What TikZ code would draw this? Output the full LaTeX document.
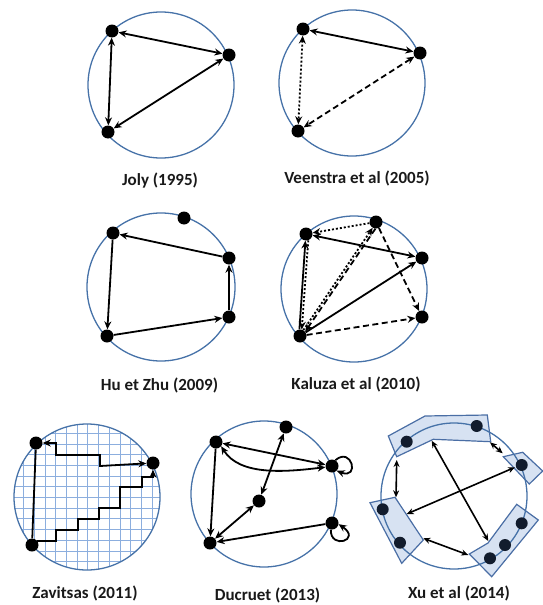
\documentclass[tikz,border=0pt]{standalone}
\usepackage{fontspec}
\setmainfont{Carlito}
\usetikzlibrary{arrows.meta}
\definecolor{circ}{RGB}{70,114,168}
\definecolor{gridc}{RGB}{140,174,222}
\definecolor{bandfill}{RGB}{215,226,242}
\definecolor{bandline}{RGB}{74,110,165}
\definecolor{xnode}{RGB}{18,28,45}
\begin{document}
\begin{tikzpicture}[x=1pt,y=-1pt,
 ring/.style={draw=circ,line width=1.3pt},
 dot/.style={circle,fill=black,inner sep=0pt,minimum size=13pt},
 xdot/.style={circle,fill=xnode,inner sep=0pt,minimum size=12pt},
 arr/.style={line width=1.8pt,-{Stealth[length=8pt,width=7pt]}},
 darr/.style={line width=1.8pt,{Stealth[length=8pt,width=7pt]}-{Stealth[length=8pt,width=7pt]}},
 xarr/.style={line width=1.6pt,{Stealth[length=7pt,width=6pt]}-{Stealth[length=7pt,width=6pt]}},
 plain/.style={line width=1.8pt},
 dots/.style={dash pattern=on 2pt off 2pt},
 dashb/.style={dash pattern=on 6pt off 3.5pt},
 lbl/.style={font=\fontsize{17}{20}\selectfont\bfseries, text=black!90},
 band/.style={fill=bandfill,draw=bandline,line width=1.2pt},
]
\useasboundingbox (0,0) rectangle (543,605);

% ---------- Joly (1995)
\draw[ring] (161,85) circle[radius=73];
\node[dot] (j1) at (112,31) {};
\node[dot] (j2) at (229,55) {};
\node[dot] (j3) at (108,132) {};
\draw[darr] (j1) -- (j2);
\draw[darr] (j2) -- (j3);
\draw[darr] (j1) -- (j3);
\node[lbl] (jl) at (160,181) {Joly (1995)};

% ---------- Veenstra et al (2005)
\draw[ring] (352,83) circle[radius=73];
\node[dot] (v1) at (303,29) {};
\node[dot] (v2) at (420,53) {};
\node[dot] (v3) at (298,131) {};
\draw[darr] (v1) -- (v2);
\draw[darr,dots] (v1) -- (v3);
\draw[darr,dashb] (v2) -- (v3);
\node[lbl] (vl) at (357,178) {Veenstra et al (2005)};

% ---------- Hu et Zhu (2009)
\draw[ring] (161,287) circle[radius=74];
\node[dot] (h0) at (184,218) {};
\node[dot] (h1) at (113,233) {};
\node[dot] (h2) at (229,258) {};
\node[dot] (h3) at (229,317) {};
\node[dot] (h4) at (107,336) {};
\draw[arr] (h2) -- (h1);
\draw[arr] (h1) -- (h4);
\draw[arr] (h4) -- (h3);
\draw[arr] (h3) -- (h2);
\node[lbl] (hl) at (159.5,385) {Hu et Zhu (2009)};

% ---------- Kaluza et al (2010)
\draw[ring] (354,289) circle[radius=73];
\node[dot] (k0) at (376,222) {};
\node[dot] (k1) at (306,234) {};
\node[dot] (k2) at (422,258) {};
\node[dot] (k3) at (422,317) {};
\node[dot] (k4) at (300,336) {};
\draw[arr,dots] (k0) -- (k1);
\draw[darr] (k1) -- (k2);
\draw[arr] (k4.95) -- (k1.-95);
\draw[arr,dots] (k1.-70) -- (k4.75);
\draw[arr,dots] (k4.60) -- (k0.-120);
\draw[arr,dashb] (k0.-95) -- (k4.40);
\draw[arr,dashb] (k0) -- (k3);
\draw[arr] (k4) -- (k2);
\draw[arr,dashb] (k4) -- (k3);
\node[lbl] (kl) at (356,384) {Kaluza et al (2010)};

% ---------- Zavitsas (2011)
\begin{scope}
\clip (87,497) circle[radius=73];
\foreach \k in {-4,...,11} {
  \draw[gridc,line width=0.8pt] (45+10.7*\k,410) -- (45+10.7*\k,580);
}
\foreach \k in {-8,...,8} {
  \draw[gridc,line width=0.8pt] (0,486.7+10.7*\k) -- (170,486.7+10.7*\k);
}
\end{scope}
\draw[ring] (87,497) circle[radius=73];
\node[dot] (z1) at (36,443) {};
\node[dot] (z2) at (153,463) {};
\node[dot] (z3) at (32,545) {};
\draw[plain] (z1) -- (z3);
\draw[darr] (z1) -| (56,455) -| (100,466) -- (z2);
\draw[arr] (z3.40) -| (56,530) -| (78,519) -| (99,508) -| (120,487) -| (142,477) -| (z2.south);
\node[lbl] (zl) at (85,593) {Zavitsas (2011)};

% ---------- Ducruet (2013)
\draw[ring] (264,494) circle[radius=73];
\node[dot] (d0) at (286,427) {};
\node[dot] (d1) at (216,442) {};
\node[dot] (d2) at (332,466) {};
\node[dot] (dm) at (259,501) {};
\node[dot] (d3) at (332,523) {};
\node[dot] (d4) at (210,543) {};
\draw[darr] (d1) -- (d2);
\draw[darr] (d1.-40) .. controls (240,476) and (285,472) .. (d2.190);
\draw[darr] (d0) -- (dm);
\draw[arr] (d1) -- (d4);
\draw[darr] (dm) -- (d4);
\draw[arr] (d3) -- (d4);
\draw[arr] (d2.60) .. controls (352,446) and (360,480) .. (d2.-45);
\draw[arr] (d3.-100) .. controls (330,550) and (362,540) .. (d3.-10);
\node[lbl] (dl) at (267.5,595) {Ducruet (2013)};

% ---------- Xu et al (2014)
\draw[band] (388.3,436) -- (425,416) -- (487.3,415) -- (490.7,441.7) -- (433.3,439.3) -- (396.7,456.7) -- cycle;
\draw[band] (503.3,456.7) -- (522.7,452.3) -- (542.7,471) -- (529.3,484) -- cycle;
\draw[band] (370,502.7) -- (395,497.3) -- (423.3,540) -- (401.7,563.3) -- cycle;
\draw[band] (469.3,554) -- (488,543) -- (516.7,504.3) -- (538.3,520) -- (491.7,576.7) -- cycle;
\draw[ring] (454,496) circle[radius=73];
\node[xdot] (x1) at (406.7,441.7) {};
\node[xdot] (x2) at (476.7,426) {};
\node[xdot] (x3) at (521.7,465) {};
\node[xdot] (x4) at (382.7,509.3) {};
\node[xdot] (x5) at (400,542.7) {};
\node[xdot] (x6) at (490,558.3) {};
\node[xdot] (x7) at (505,545) {};
\node[xdot] (x8) at (521.7,523.3) {};
\coordinate (p1a) at (431.7,440.7);
\coordinate (p1b) at (488.3,541);
\coordinate (p2a) at (406.7,514);
\coordinate (p2b) at (515,467.3);
\coordinate (p3a) at (396.7,460);
\coordinate (p3b) at (396,497.3);
\coordinate (p4a) at (490,442.3);
\coordinate (p4b) at (502.7,453.3);
\coordinate (p5a) at (423.3,538.3);
\coordinate (p5b) at (468.3,555);
\draw[xarr] (p1a) -- (p1b);
\draw[xarr] (p2a) -- (p2b);
\draw[xarr] (p3a) -- (p3b);
\draw[xarr] (p4a) -- (p4b);
\draw[xarr] (p5a) -- (p5b);
\node[lbl] (xl) at (459,593) {Xu et al (2014)};
\end{tikzpicture}
\end{document}
